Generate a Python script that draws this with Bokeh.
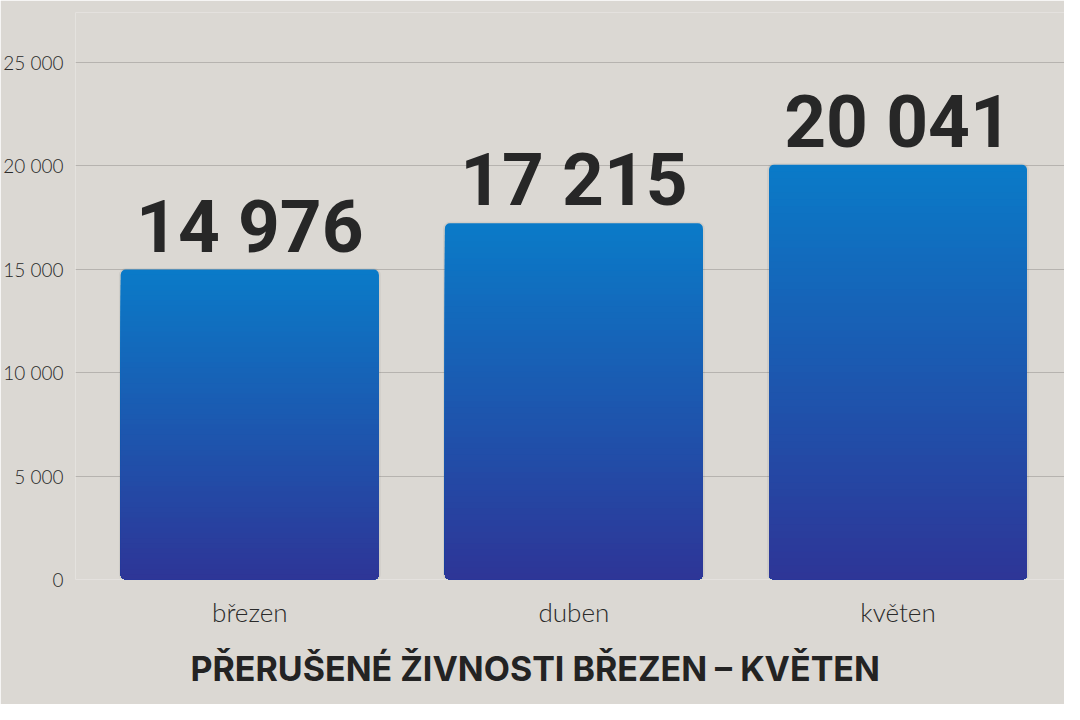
from bokeh.plotting import figure
from bokeh.models import Range1d, FixedTicker, ColumnDataSource, Title
from bokeh.core.properties import value
from bokeh.embed import file_html
from bokeh.resources import INLINE

# ---- data ----
categories = ["březen", "duben", "květen"]
values = [14976, 17215, 20041]
y_ticks = [0, 5000, 10000, 15000, 20000, 25000]
y_tick_labels = ["0", "5 000", "10 000", "15 000", "20 000", "25 000"]
title_text = "PŘERUŠENÉ ŽIVNOSTI BŘEZEN – KVĚTEN"

BG = "#dbd8d3"
TOP_C = (10, 123, 200)
BOT_C = (46, 53, 151)

p = figure(width=1064, height=704, output_backend="svg", toolbar_location=None,
           x_range=Range1d(-0.5378, 2.5137), y_range=Range1d(0, 27398),
           min_border_left=75, min_border_right=0, min_border_top=12,
           min_border_bottom=125)
p.background_fill_color = BG
p.border_fill_color = BG
p.outline_line_color = None

xs = list(range(len(categories)))
W = 0.796
N = 60

for i, v in enumerate(values):
    # soft shadow
    p.quad(left=xs[i] - W / 2 - 0.006, right=xs[i] + W / 2 + 0.006, bottom=-70, top=v + 70,
           fill_color="black", fill_alpha=0.05, line_color=None, border_radius=7)
    # gradient: nested rectangles from 0 up to fraction of value, tallest first
    tops, colors = [], []
    for k in range(N, 0, -1):
        t = (k - 0.5) / N
        c = tuple(int(round(BOT_C[j] + (TOP_C[j] - BOT_C[j]) * t)) for j in range(3))
        tops.append(v * k / N)
        colors.append("#%02x%02x%02x" % c)
    first = ColumnDataSource(dict(top=tops[:1], color=colors[:1]))
    rest = ColumnDataSource(dict(top=tops[1:], color=colors[1:]))
    p.quad(left=xs[i] - W / 2, right=xs[i] + W / 2, bottom=0, top="top",
           fill_color="color", line_color=None, source=first, border_radius=5)
    p.quad(left=xs[i] - W / 2, right=xs[i] + W / 2, bottom=0, top="top",
           fill_color="color", line_color=None, source=rest, border_radius=(0, 0, 5, 5))

labels = [f"{v:,}".replace(",", " ") for v in values]
p.text(x=xs, y=values, text=labels, text_align="center", text_baseline="alphabetic",
       y_offset=-43, text_font=value("Roboto"), text_font_style="bold",
       text_font_size="73px", text_color="#272727")

# axes
p.yaxis.ticker = FixedTicker(ticks=y_ticks)
p.yaxis.major_label_overrides = {t: l for t, l in zip(y_ticks, y_tick_labels)}
p.yaxis.axis_line_color = None
p.yaxis.major_tick_line_color = None
p.yaxis.minor_tick_line_color = None
p.yaxis.major_tick_out = 0
p.yaxis.major_tick_in = 0
p.yaxis.major_label_text_font = "Lato Light"
p.yaxis.major_label_text_font_size = "19px"
p.yaxis.major_label_text_color = "#2a2a2a"
p.yaxis.major_label_standoff = 12

p.xaxis.ticker = FixedTicker(ticks=xs)
p.xaxis.major_label_overrides = {x: c for x, c in zip(xs, categories)}
p.xaxis.axis_line_color = None
p.xaxis.major_tick_line_color = None
p.xaxis.minor_tick_line_color = None
p.xaxis.major_tick_out = 0
p.xaxis.major_tick_in = 0
p.xaxis.major_label_text_font = "Lato Light"
p.xaxis.major_label_text_font_size = "26px"
p.xaxis.major_label_text_color = "#2a2a2a"
p.xaxis.major_label_standoff = 16

p.xgrid.grid_line_color = None
p.ygrid.grid_line_color = "#b6b3af"
p.ygrid.grid_line_width = 1

t = Title(text=title_text, align="left", text_font="Inter", text_font_style="bold",
          text_font_size="34px", text_color="#232323", offset=115, standoff=30)
p.add_layout(t, "below")

open("out.html", "w").write(file_html(p, INLINE))
